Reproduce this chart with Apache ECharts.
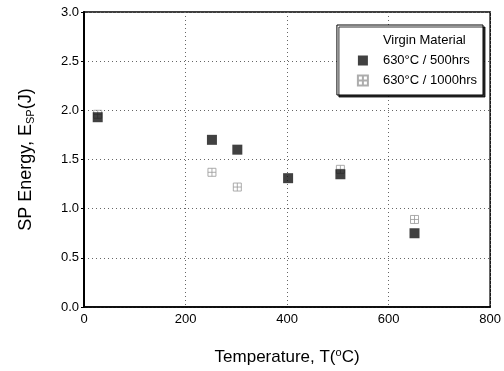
<!DOCTYPE html>
<html><head><meta charset="utf-8">
<script src="https://cdn.jsdelivr.net/npm/echarts@6/dist/echarts.min.js"></script>
<style>html,body{margin:0;padding:0;background:#fff}#c{width:504px;height:371px}</style>
</head><body><div id="c"></div>
<script>
var seriesNames = ['Virgin Material', '630°C / 500hrs', '630°C / 1000hrs'];
var virginData = [];
var h500Temp = [27, 252, 302, 402, 505, 651];
var h500Energy = [1.93, 1.70, 1.60, 1.31, 1.35, 0.75];
var h1000Temp = [27, 252, 302, 505, 651];
var h1000Energy = [1.96, 1.37, 1.22, 1.40, 0.89];
var xTicks = [0, 200, 400, 600, 800];
var yTicks = [0, 0.5, 1.0, 1.5, 2.0, 2.5, 3.0];

function pairs(a, b) { return a.map(function (v, i) { return [v, b[i]]; }); }

var chart = echarts.init(document.getElementById('c'));
var font = 'Liberation Sans, Arial, sans-serif';
var hatch = 'path://M0,0H10V10H0Z M5,0V10 M0,5H10';
chart.setOption({
  animation: false,
  backgroundColor: '#fff',
  textStyle: { fontFamily: font },
  grid: { left: 84, right: 12, top: 12, bottom: 64, show: true, borderColor: '#000', borderWidth: 1.5 },
  legend: {
    orient: 'vertical', right: 21, top: 25, itemGap: 7,
    backgroundColor: '#fff', borderColor: '#000', borderWidth: 1,
    shadowColor: 'rgba(0,0,0,0.8)', shadowOffsetX: 2, shadowOffsetY: 2, shadowBlur: 0,
    padding: [9, 6, 8, 20],
    itemWidth: 10, itemHeight: 10,
    textStyle: { fontSize: 13, color: '#000', fontFamily: font, padding: [0, 0, 0, 10] },
    data: [
      { name: seriesNames[0], icon: 'none' },
      { name: seriesNames[1], icon: 'rect' },
      { name: seriesNames[2] }
    ]
  },
  xAxis: {
    type: 'value', min: 0, max: 800, interval: 200,
    name: '{a|Temperature, T(}{sup|o}{a|C)}', nameLocation: 'middle', nameGap: 40,
    nameTextStyle: { rich: { a: { fontSize: 17, color: '#000' }, sup: { fontSize: 11, color: '#000', padding: [0, 0, 9, 0] } } },
    axisLine: { lineStyle: { color: '#000', width: 1.5 } },
    axisTick: { show: false },
    axisLabel: { fontSize: 13, color: '#000', margin: 6,
      formatter: function (v) { return xTicks.indexOf(v) >= 0 ? String(v) : ''; } },
    splitLine: { show: true, lineStyle: { color: '#666', type: [1, 3], width: 1 } }
  },
  yAxis: {
    type: 'value', min: 0, max: 3, interval: 0.5,
    name: '{a|SP Energy, E}{sub|SP}{a|(J)}', nameLocation: 'middle', nameGap: 48, nameRotate: 90,
    nameTextStyle: { rich: { a: { fontSize: 18, color: '#000' }, sub: { fontSize: 11, color: '#000', padding: [9, 0, 0, 0] } } },
    axisLine: { lineStyle: { color: '#000', width: 2 } },
    axisTick: { show: true, inside: false, length: 3, lineStyle: { color: '#000' } },
    axisLabel: { fontSize: 13, color: '#000', margin: 5,
      formatter: function (v) { return yTicks.indexOf(v) >= 0 ? v.toFixed(1) : ''; } },
    splitLine: { show: true, lineStyle: { color: '#666', type: [1, 3], width: 1 } }
  },
  series: [
    { name: seriesNames[0], type: 'scatter', data: virginData, itemStyle: { color: '#fff' } },
    { name: seriesNames[1], type: 'scatter', symbol: 'rect', symbolSize: 10, z: 3,
      data: pairs(h500Temp, h500Energy), itemStyle: { color: '#111' } },
    { name: seriesNames[2], type: 'scatter', symbol: hatch, symbolSize: 8, z: 2,
      data: pairs(h1000Temp, h1000Energy),
      itemStyle: { color: 'rgba(255,255,255,0)', borderColor: '#999', borderWidth: 1 } }
  ]
});
</script></body></html>
